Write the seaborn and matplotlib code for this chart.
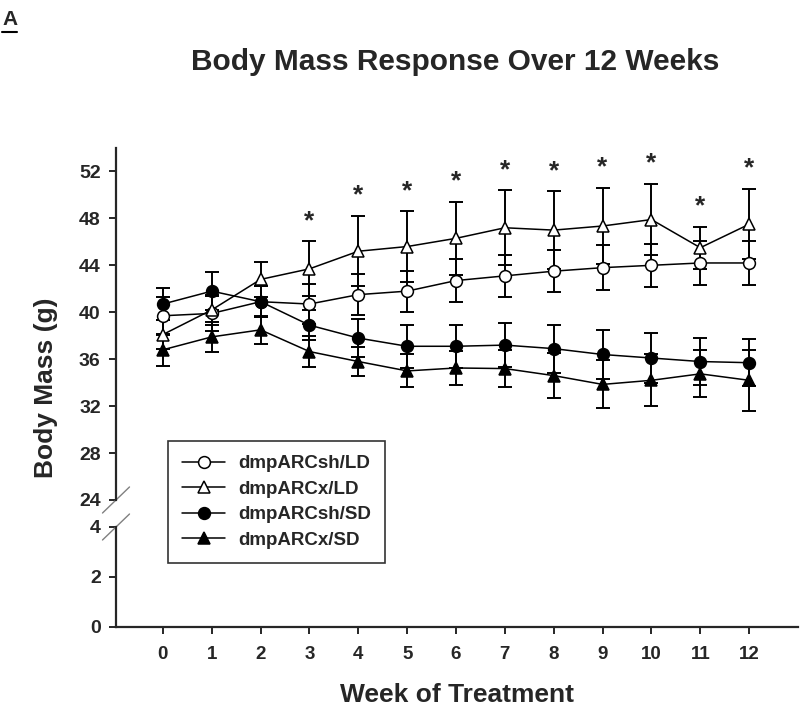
import pandas as pd
import seaborn as sns
import matplotlib.pyplot as plt
from matplotlib.lines import Line2D

weeks = list(range(13))

sh_ld = [39.7, 39.9, 40.9, 40.7, 41.5, 41.8, 42.7, 43.1, 43.5, 43.8, 44.0, 44.2, 44.2]
sh_ld_se = [1.6, 1.5, 1.3, 1.7, 1.75, 1.75, 1.8, 1.8, 1.8, 1.9, 1.85, 1.85, 1.85]

x_ld = [38.1, 40.2, 42.8, 43.7, 45.2, 45.6, 46.3, 47.2, 47.0, 47.35, 47.9, 45.5, 47.5]
x_ld_se = [1.2, 1.3, 1.5, 2.35, 3.0, 3.0, 3.1, 3.2, 3.3, 3.25, 3.05, 1.8, 3.0]

sh_sd = [40.7, 41.8, 40.9, 38.9, 37.8, 37.1, 37.1, 37.2, 36.9, 36.4, 36.1, 35.8, 35.7]
sh_sd_se = [1.4, 1.6, 1.3, 1.3, 1.6, 1.85, 1.85, 1.85, 2.05, 2.1, 2.1, 2.0, 2.0]

x_sd = [36.8, 37.9, 38.5, 36.65, 35.8, 35.0, 35.25, 35.2, 34.6, 33.85, 34.2, 34.75, 34.2]
x_sd_se = [1.35, 1.3, 1.2, 1.35, 1.2, 1.4, 1.45, 1.6, 1.95, 2.05, 2.2, 2.0, 2.6]

star_weeks = [3, 4, 5, 6, 7, 8, 9, 10, 11, 12]

groups = ["dmpARCsh/LD", "dmpARCx/LD", "dmpARCsh/SD", "dmpARCx/SD"]
means = [sh_ld, x_ld, sh_sd, x_sd]
sems = [sh_ld_se, x_ld_se, sh_sd_se, x_sd_se]
markers = ["o", "^", "o", "^"]
faces = ["white", "white", "black", "black"]

sns.set_style("ticks")
plt.rcParams["font.family"] = ["Liberation Sans", "DejaVu Sans"]
plt.rcParams["font.weight"] = "bold"
plt.rcParams["axes.labelweight"] = "bold"

fig = plt.figure(figsize=(8, 7.07), dpi=100)
ax = fig.add_axes([0.145, 0.2928, 0.8525, 0.4979])
ax2 = fig.add_axes([0.145, 0.1132, 0.8525, 0.1414], sharex=ax)

for name, m, s, mk, fc in zip(groups, means, sems, markers, faces):
    df = pd.DataFrame({"week": weeks, "mass": m, "se": s})
    ax.errorbar(df["week"], df["mass"], yerr=df["se"], fmt="none", ecolor="black",
                elinewidth=1.4, capsize=5, capthick=1.4, zorder=2)
    sns.lineplot(data=df, x="week", y="mass", ax=ax, color="black", linewidth=1.1,
                 marker=mk, markersize=8.5, markerfacecolor=fc, markeredgecolor="black",
                 markeredgewidth=1.1, label=name, zorder=3)

# significance stars above dmpARCx/LD
for w in star_weeks:
    top = x_ld[w] + x_ld_se[w]
    ax.annotate("*", xy=(w, top), xytext=(0, 6), textcoords="offset points",
                ha="center", va="bottom", fontsize=19, fontweight="bold")

ax.set_xlim(-0.96, 13.0)
ax.set_ylim(24, 54)
ax.set_yticks([24, 28, 32, 36, 40, 44, 48, 52])
ax.set_xlabel("")
ax.set_ylabel("")
ax2.set_ylim(0, 4)
ax2.set_yticks([0, 2, 4])
ax2.set_xticks(weeks)

for a in (ax, ax2):
    a.spines["top"].set_visible(False)
    a.spines["right"].set_visible(False)
    a.spines["left"].set_linewidth(1.6)
    a.spines["bottom"].set_linewidth(1.6)
    a.tick_params(axis="both", direction="out", length=5, width=1.4, labelsize=14,
                  pad=6)
    a.set_facecolor("none")
ax.spines["bottom"].set_visible(False)
ax.tick_params(axis="x", bottom=False, labelbottom=False)
ax2.tick_params(axis="x", labelsize=13.5, pad=9)

# axis break marks
d_x, d_y = 0.0198, 0.037
ax.plot([-d_x, d_x], [-d_y, d_y], transform=ax.transAxes, color="gray",
        linewidth=1, clip_on=False)
ax2.plot([-d_x, d_x], [1 - 0.13, 1 + 0.13], transform=ax2.transAxes, color="gray",
         linewidth=1, clip_on=False)

handles, labels = ax.get_legend_handles_labels()
ax.get_legend().remove()
leg = fig.legend(handles, labels, loc="upper left", bbox_to_anchor=(0.21, 0.3762),
                 borderaxespad=0, frameon=True, fancybox=False, fontsize=13.5,
                 handlelength=2.3, handletextpad=0.7, labelspacing=0.45,
                 borderpad=0.75)
leg.get_frame().set_edgecolor("black")
leg.get_frame().set_linewidth(1.2)

ax2.set_xlabel("Week of Treatment", fontsize=19, fontweight="bold", labelpad=14)
fig.text(0.057, 0.451, "Body Mass (g)", rotation=90, ha="center", va="center",
         fontsize=19, fontweight="bold")
fig.text(0.569, 0.912, "Body Mass Response Over 12 Weeks", ha="center", va="center",
         fontsize=21.5, fontweight="bold")
fig.text(0.003, 0.973, "A", ha="left", va="center", fontsize=15, fontweight="bold")
fig.add_artist(Line2D([0.003, 0.021], [0.955, 0.955], color="black", linewidth=1.5))

fig.savefig("out.png", dpi=100)
